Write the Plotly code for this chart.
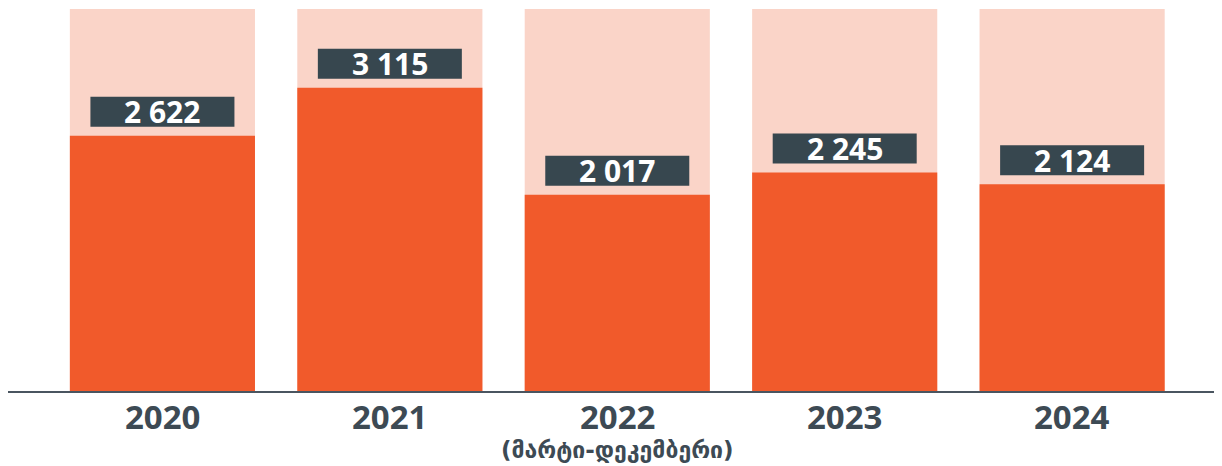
import plotly.graph_objects as go

years = ["2020", "2021", "2022", "2023", "2024"]
values = [2622, 3115, 2017, 2245, 2124]
value_labels = ["2 622", "3 115", "2 017", "2 245", "2 124"]
background = [3925, 3925, 3925, 3925, 3925]
subtitle_year = "2022"
subtitle = "(მარტი-დეკემბერი)"

W, H = 1214, 458  # page body has an 8px margin
ORANGE = "#f15a2b"
PINK = "#fad4c8"
DARK = "#37474f"
TEXT = "#3d4a54"

xs = list(range(len(years)))
BOX_HALF = 0.3166  # label box half-width in category units

fig = go.Figure()
fig.add_trace(go.Bar(x=xs, y=background, marker=dict(color=PINK, line=dict(width=0)),
                     hoverinfo="skip", showlegend=False))
fig.add_trace(go.Bar(x=xs, y=values, marker=dict(color=ORANGE, line=dict(width=0)),
                     showlegend=False))

shapes = []
annotations = []
for i, (v, lab) in enumerate(zip(values, value_labels)):
    shapes.append(dict(
        type="rect", xref="x", yref="y", x0=i - BOX_HALF, x1=i + BOX_HALF,
        ysizemode="pixel", yanchor=v, y0=9, y1=39,
        fillcolor=DARK, line=dict(width=0), layer="above",
    ))
    annotations.append(dict(
        x=i, y=v, xref="x", yref="y", text=lab, showarrow=False,
        xanchor="center", yanchor="middle", yshift=24,
        font=dict(family="Open Sans", size=30, color="white", weight="bold"),
    ))
for i, yr in enumerate(years):
    annotations.append(dict(
        x=i, y=0, xref="x", yref="y", text=yr, showarrow=False,
        xanchor="center", yanchor="middle", yshift=-25,
        font=dict(family="Open Sans", size=33, color=TEXT, weight="bold"),
    ))
annotations.append(dict(
    x=years.index(subtitle_year), y=0, xref="x", yref="y", text=subtitle, showarrow=False,
    xanchor="center", yanchor="middle", yshift=-59,
    font=dict(family="DejaVu Sans", size=23, color=TEXT, weight="bold"),
))

fig.update_layout(
    width=W, height=H,
    margin=dict(l=0, r=0, t=1, b=75),
    paper_bgcolor="white", plot_bgcolor="white",
    barmode="overlay", bargap=0.186,
    xaxis=dict(range=[-0.679, 4.659], showticklabels=False, showgrid=False,
               zeroline=False, showline=True, linecolor="#4a5560", linewidth=2,
               ticks=""),
    yaxis=dict(range=[0, 3925], visible=False, showgrid=False, zeroline=False),
    shapes=shapes,
    annotations=annotations,
)

fig.write_html("out.html")
